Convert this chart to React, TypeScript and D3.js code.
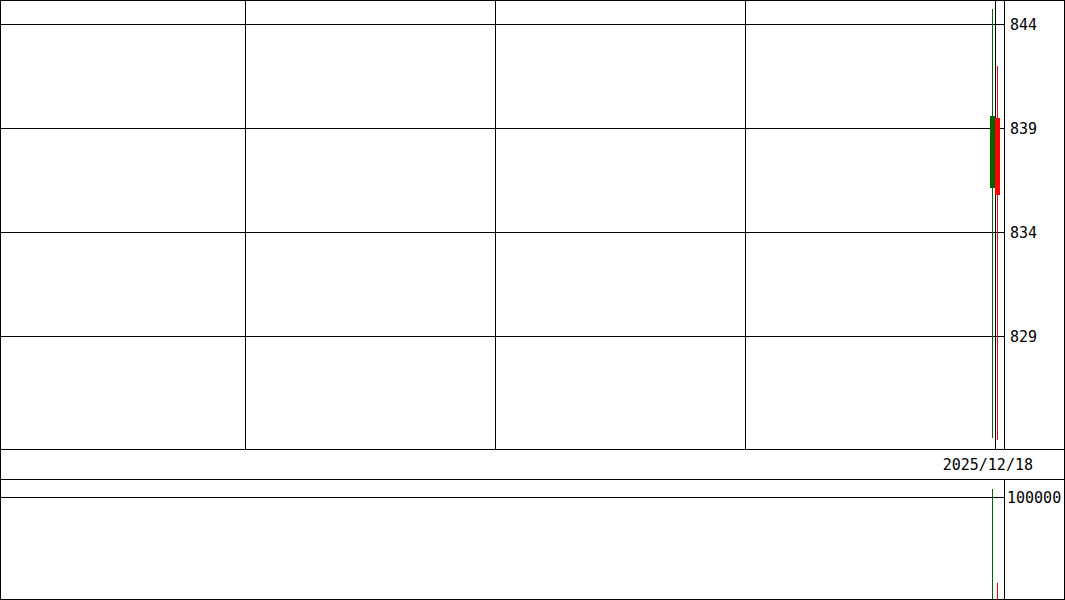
import React from "react";
import * as d3 from "d3";

const dates = ["2025/12/17", "2025/12/18"];
const opens = [836.1, 839.5];
const highs = [844.7, 842.0];
const lows = [824.1, 824.0];
const closes = [839.6, 835.8];
const volumes = [108000, 16000];
const candleColors = ["#006400", "#ff0000"];
const priceTicks = [829, 834, 839, 844];
const volumeTicks = [100000];

const W = 1065;
const H = 600;
const PLOT_R = 1004; // right edge of plot area / axis line
const MAIN_B = 449;
const DATE_B = 479;
const FONT = "'DejaVu Sans Mono', monospace";

export default function App() {
  const x = d3.scaleLinear().domain([0, 1]).range([992.5, 997.5]);
  const y = d3.scaleLinear().domain([829, 844]).range([336, 24]);
  const yv = d3.scaleLinear().domain([0, 100000]).range([599, 497]);
  const bodyW = 5;
  const vGrid = d3.range(245, PLOT_R, 250);
  const last = dates[dates.length - 1];

  return (
    <div style={{ position: "absolute", left: 0, top: 0 }}>
      <svg width={W} height={H} style={{ display: "block", background: "#fff" }} shapeRendering="crispEdges">
        {/* main panel grid */}
        {priceTicks.map((t) => (
          <line key={t} x1={0} x2={PLOT_R} y1={y(t) + 0.5} y2={y(t) + 0.5} stroke="#000" />
        ))}
        {vGrid.map((v) => (
          <line key={v} x1={v + 0.5} x2={v + 0.5} y1={0} y2={MAIN_B} stroke="#000" />
        ))}
        {/* volume grid */}
        {volumeTicks.map((t) => (
          <line key={t} x1={0} x2={PLOT_R} y1={yv(t) + 0.5} y2={yv(t) + 0.5} stroke="#000" />
        ))}

        {/* candles */}
        {dates.map((d, i) => {
          const cx = x(i);
          const top = y(Math.max(opens[i], closes[i]));
          const bot = y(Math.min(opens[i], closes[i]));
          return (
            <g key={d}>
              <line x1={cx} x2={cx} y1={y(highs[i])} y2={y(lows[i])} stroke={candleColors[i]} />
              <rect x={cx - 2.5} y={top} width={bodyW} height={bot - top} fill={candleColors[i]} />
              <line x1={cx} x2={cx} y1={yv(volumes[i])} y2={yv(0)} stroke={candleColors[i]} />
            </g>
          );
        })}

        {/* frame */}
        <rect x={0.5} y={0.5} width={W - 1} height={H - 1} fill="none" stroke="#000" />
        <line x1={PLOT_R + 0.5} x2={PLOT_R + 0.5} y1={0} y2={MAIN_B} stroke="#000" />
        <line x1={PLOT_R + 0.5} x2={PLOT_R + 0.5} y1={DATE_B} y2={H} stroke="#000" />
        <line x1={0} x2={W} y1={MAIN_B + 0.5} y2={MAIN_B + 0.5} stroke="#000" />
        <line x1={0} x2={W} y1={DATE_B + 0.5} y2={DATE_B + 0.5} stroke="#000" />

        {/* labels */}
        {priceTicks.map((t) => (
          <text key={t} x={1010} y={y(t) + 5.5} fontFamily={FONT} fontSize={15} fill="#000">
            {t}
          </text>
        ))}
        {volumeTicks.map((t) => (
          <text key={t} x={1007} y={yv(t) + 5.5} fontFamily={FONT} fontSize={15} fill="#000">
            {t}
          </text>
        ))}
        <text x={1033} y={470} textAnchor="end" fontFamily={FONT} fontSize={15} fill="#000">
          {last}
        </text>
      </svg>
    </div>
  );
}
